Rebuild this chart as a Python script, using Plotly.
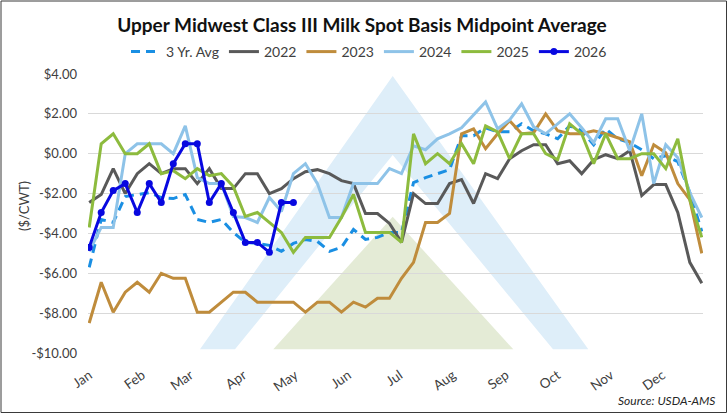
import plotly.graph_objects as go

# ---------------- data ----------------
months = ["Jan", "Feb", "Mar", "Apr", "May", "Jun", "Jul", "Aug", "Sep", "Oct", "Nov", "Dec"]
month_days = [31, 28, 31, 30, 31, 30, 31, 31, 30, 31, 30, 31]
weeks = list(range(52))

avg3 = [-5.70, -3.30, -3.45, -2.15, -2.05, -1.95, -2.20, -2.25, -2.05, -3.30,
        -3.45, -3.30, -3.95, -4.45, -4.50, -4.60, -4.90, -4.50, -4.30, -4.40,
        -4.90, -4.70, -3.80, -4.30, -4.20, -3.95, -3.95, -1.45, -1.20, -1.00,
        -0.80, 0.90, 0.90, 1.30, 1.10, 1.10, 1.50, 1.15, 1.00, 0.75,
        1.40, 1.15, 0.45, 1.25, 0.75, 0.55, 0.20, -0.25, -0.10, -0.40,
        -1.95, -3.90]

y2022 = [-2.45, -2.05, -0.75, -2.00, -1.00, -0.50, -1.00, -0.75, -0.75, -1.50,
         -0.75, -1.75, -1.75, -1.00, -1.00, -2.00, -1.75, -1.25, -0.90, -0.80,
         -1.00, -1.35, -1.50, -3.00, -3.00, -3.50, -4.45, -2.00, -2.50, -2.50,
         -1.50, -1.30, -2.50, -1.00, -1.25, -0.25, 0.15, 0.45, 0.45, -0.50,
         -0.35, -1.00, -0.30, -0.05, -0.25, 0.15, -2.10, -1.55, -1.55, -2.95,
         -5.45, -6.50]

y2023 = [-8.50, -6.45, -7.95, -6.95, -6.45, -6.95, -6.00, -6.25, -6.25, -7.95,
         -7.95, -7.45, -6.95, -6.95, -7.45, -7.45, -7.45, -7.45, -7.95, -7.45,
         -7.45, -7.95, -7.45, -7.70, -7.25, -7.25, -6.25, -5.45, -3.45, -3.45,
         -3.00, 1.00, 1.25, 0.25, 1.00, 1.65, 1.00, 1.05, 2.00, 1.15,
         1.00, 1.00, 1.15, 1.00, 0.80, 0.60, -1.10, 0.45, 0.05, -1.50,
         -2.30, -5.00]

y2024 = [-4.90, -3.70, -3.70, 0.00, 0.50, 0.50, 0.50, 0.00, 1.40, -1.20,
         -1.50, -1.50, -3.15, -3.20, -3.45, -2.20, -2.90, -1.00, -0.50, -1.50,
         -3.20, -3.20, -1.50, -1.50, -1.50, -0.75, -1.00, 0.40, 0.20, 0.75,
         1.00, 1.30, 1.95, 2.60, 1.25, 1.70, 2.50, 1.35, 1.00, 1.50,
         2.00, 1.30, 0.55, 1.75, 1.75, 0.15, 2.00, -1.50, 0.45, -0.20,
         -1.95, -3.20]

y2025 = [-3.70, 0.50, 1.00, 0.00, 0.00, 0.50, -1.00, -0.85, -1.25, -0.75,
         -1.10, -1.00, -1.65, -3.15, -2.95, -3.45, -3.95, -4.95, -4.20, -4.20,
         -4.20, -3.20, -2.05, -3.95, -3.95, -3.95, -4.45, 1.00, -0.50, 0.00,
         -0.50, 0.50, -0.50, 1.40, 1.10, -0.25, 1.00, 1.00, 0.00, -0.30,
         1.50, 1.00, -0.50, 1.00, -0.25, -0.25, 0.00, 0.00, -0.75, 0.75,
         -2.30, -4.20]

y2026 = [-4.70, -2.95, -1.85, -1.50, -2.95, -1.50, -2.45, -0.50, 0.50, 0.50,
         -2.45, -1.50, -2.95, -4.45, -4.45, -4.95, -2.45, -2.45]

y_tickvals = [4, 2, 0, -2, -4, -6, -8, -10]
y_ticktext = ["$4.00", "$2.00", "$0.00", "-$2.00", "-$4.00", "-$6.00", "-$8.00", "-$10.00"]

series_names = ["3 Yr. Avg", "2022", "2023", "2024", "2025", "2026"]

# ---------------- styles ----------------
FONT = "Lato"
W, H = 728, 414
L, R, T, B = 88, 703, 74, 353


def px(x):
    return (x - L) / (R - L)


def py(y):
    return (B - y) / (B - T)


colors = ["#1A8FE3", "#595959", "#BF8C3C", "#8EC3E8", "#8DBB3E", "#0808E0"]
dashes = ["9px,6px", "solid", "solid", "solid", "solid", "solid"]
series_values = [avg3, y2022, y2023, y2024, y2025, y2026]

fig = go.Figure()
for name, vals, col, dsh in zip(series_names, series_values, colors, dashes):
    is_marker = name == "2026"
    fig.add_trace(go.Scatter(
        x=weeks[:len(vals)], y=vals, name=name,
        mode="lines+markers" if is_marker else "lines",
        line=dict(color=col, width=3, dash=dsh),
        marker=dict(size=7, color=col) if is_marker else None,
    ))

# month tick positions (week index of each month's first day)
tick_pos = []
acc = 0
for d in month_days:
    tick_pos.append(acc / 7.0)
    acc += d


# background logo (decoration)
def tri(pts):
    return "M " + " L ".join(f"{px(a):.5f},{py(b):.5f}" for a, b in pts) + " Z"


logo_blue = tri([(392.7, 76), (200, 349.3), (588.3, 349.3)]) + " " + \
            tri([(392.7, 155), (235, 349.3), (553, 349.3)])
logo_green = tri([(392.7, 216.7), (273.3, 349.3), (513.3, 349.3)])

shapes = [
    dict(type="path", path=logo_blue, xref="paper", yref="paper",
         fillcolor="#DEEEF9", line=dict(width=0), layer="below", fillrule="evenodd"),
    dict(type="path", path=logo_green, xref="paper", yref="paper",
         fillcolor="#E4EBD6", line=dict(width=0), layer="below"),
    dict(type="rect", xref="paper", yref="paper",
         x0=px(1), x1=px(726.5), y0=py(412.5), y1=py(1),
         line=dict(color="#3a3a3a", width=1), fillcolor="rgba(0,0,0,0)", layer="above"),
]

fig.update_layout(
    width=W, height=H, autosize=False,
    margin=dict(l=L, r=W - R, t=T, b=H - B),
    paper_bgcolor="white", plot_bgcolor="white",
    font=dict(family=FONT, size=13, color="#404040"),
    title=dict(text="<b>Upper Midwest Class III Milk Spot Basis Midpoint Average</b>",
               x=px(362), xref="paper", xanchor="center", y=1 - 25 / H, yanchor="middle",
               yref="container",
               font=dict(family=FONT, size=19, color="#111111")),
    legend=dict(orientation="h", x=px(369), xanchor="center", y=py(52), yanchor="middle",
                font=dict(family=FONT, size=14, color="#404040"),
                bgcolor="rgba(0,0,0,0)", itemwidth=30, traceorder="normal"),
    showlegend=True,
    xaxis=dict(range=[-0.1, 51.1], tickvals=tick_pos, ticktext=months,
               tickangle=-35, showgrid=False, zeroline=False, showline=False,
               ticks="", ticklabelstandoff=11,
               tickfont=dict(family=FONT, size=13.5, color="#404040")),
    yaxis=dict(range=[-10, 4], tickvals=y_tickvals, ticktext=y_ticktext,
               showgrid=True, gridcolor="#D9D9D9", gridwidth=1,
               zeroline=False, showline=False, ticks="", ticklabelstandoff=10,
               tickfont=dict(family=FONT, size=13, color="#404040")),
    shapes=shapes,
    annotations=[
        dict(text="($/CWT)", xref="paper", yref="paper", x=px(24), y=py(206),
             textangle=-90, showarrow=False, xanchor="center", yanchor="middle",
             font=dict(family=FONT, size=13, color="#404040")),
        dict(text="<i>Source: USDA-AMS</i>", xref="paper", yref="paper",
             x=px(717), y=py(400), xanchor="right", yanchor="middle", showarrow=False,
             font=dict(family=FONT, size=12, color="#262626")),
    ],
)

fig.write_html("out.html", config={"displayModeBar": False},
               post_script="document.body.style.margin='0';document.body.style.overflow='hidden';")
